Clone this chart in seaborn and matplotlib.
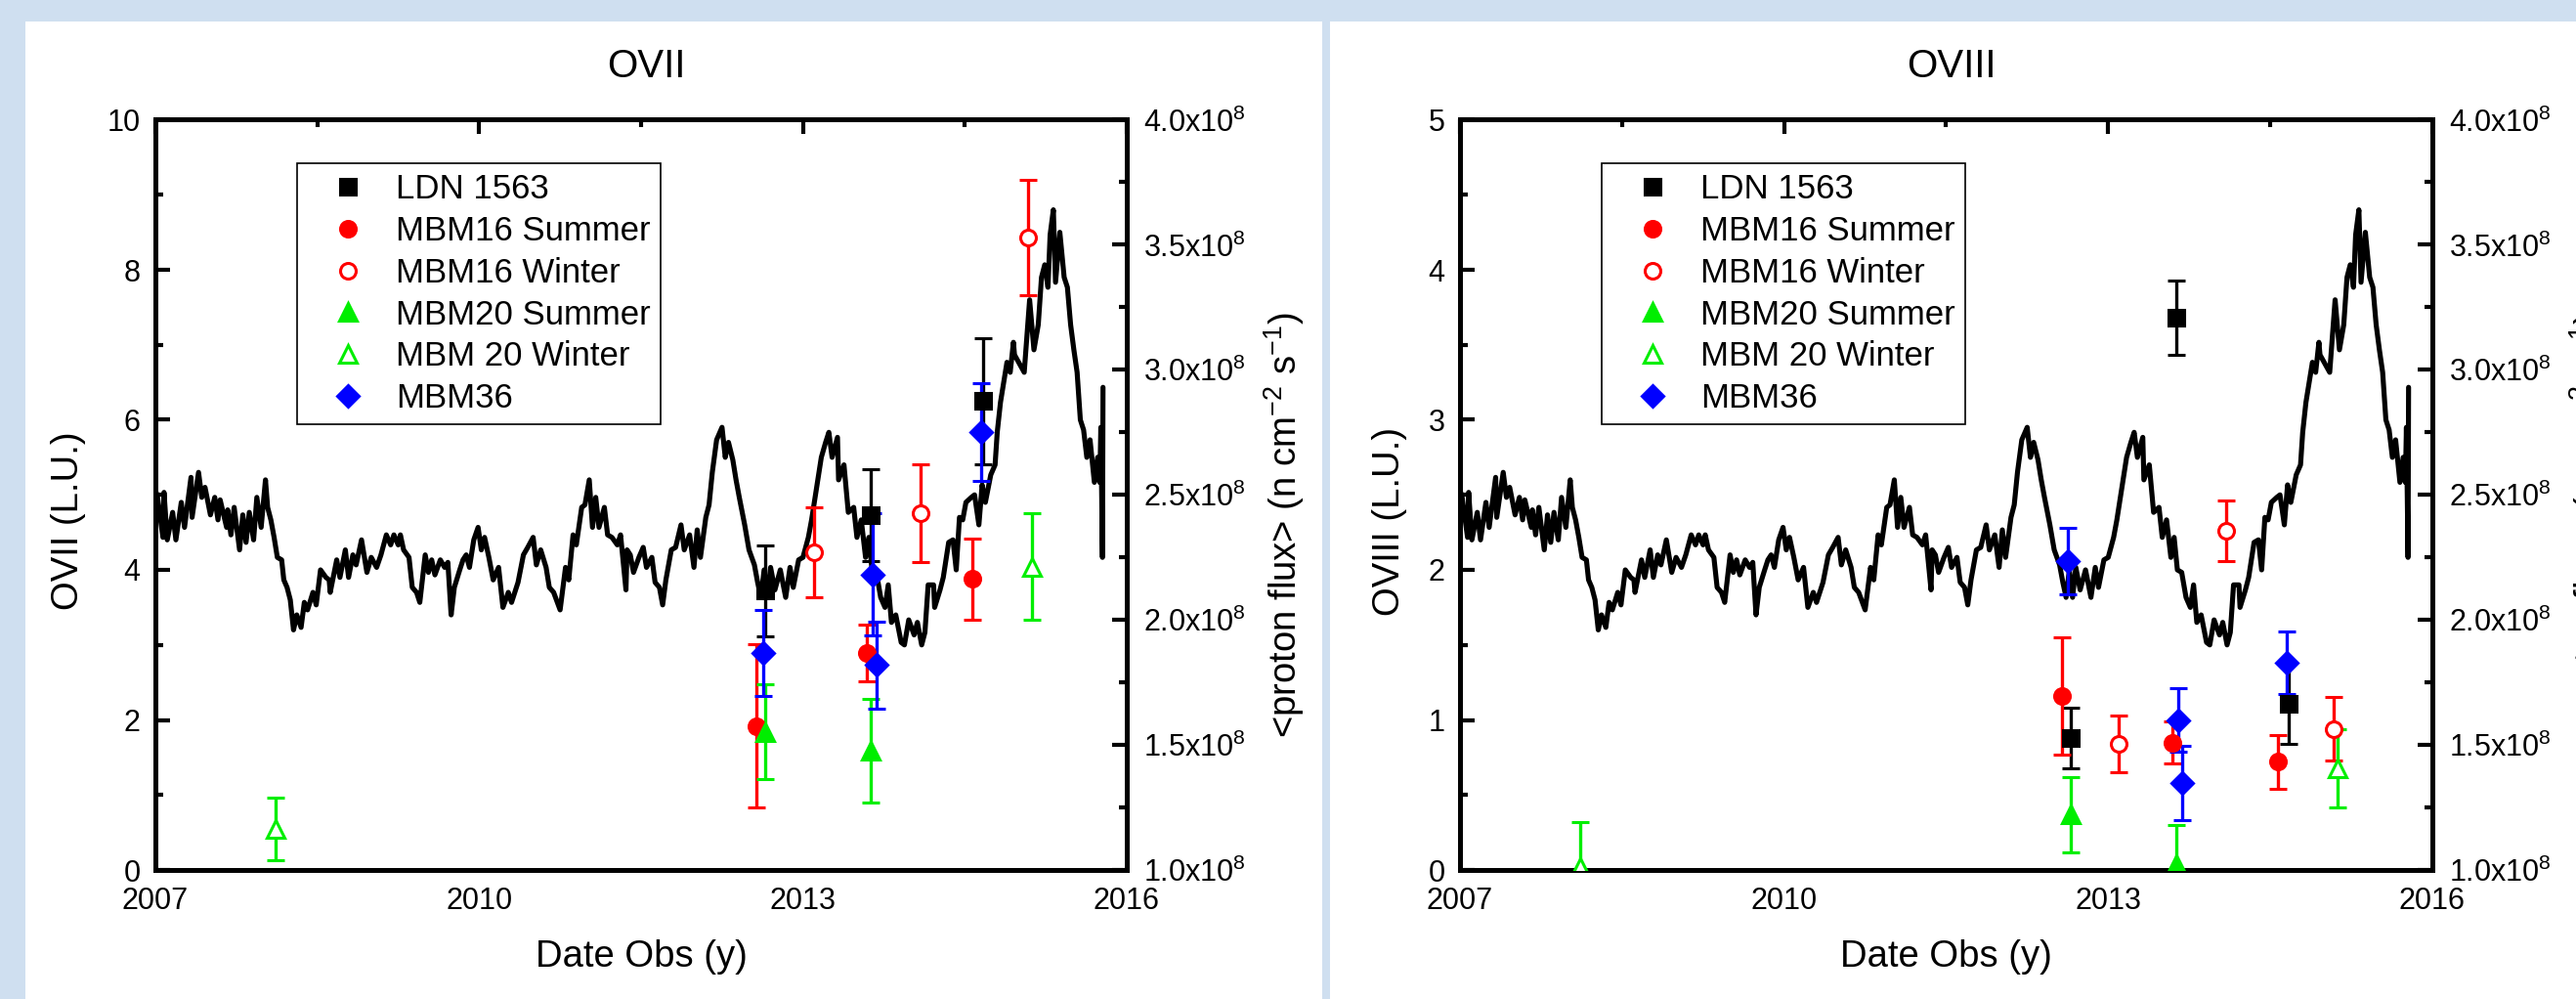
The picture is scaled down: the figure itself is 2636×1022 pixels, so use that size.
import numpy as np
import matplotlib.pyplot as plt
import seaborn as sns
from matplotlib.lines import Line2D
from matplotlib.patches import Rectangle
from matplotlib.ticker import MultipleLocator, FuncFormatter

sns.set_theme(style="white")
plt.rcParams['font.family'] = ['Liberation Sans', 'DejaVu Sans']
plt.rcParams['mathtext.default'] = 'regular'
for k in ['text.color', 'axes.labelcolor', 'xtick.color', 'ytick.color', 'axes.edgecolor']:
    plt.rcParams[k] = 'black'

# --- proton flux (units of 1e8 n cm-2 s-1) ---
flux_year = [2007.00, 2007.02, 2007.07, 2007.08, 2007.11, 2007.16, 2007.19, 2007.24, 2007.27, 2007.33,
             2007.34, 2007.40, 2007.43, 2007.46, 2007.51, 2007.55, 2007.58, 2007.60, 2007.66, 2007.67,
             2007.70, 2007.73, 2007.78, 2007.81, 2007.84, 2007.87, 2007.91, 2007.94, 2007.98, 2008.02,
             2008.04, 2008.07, 2008.10, 2008.13, 2008.17, 2008.19, 2008.22, 2008.25, 2008.28, 2008.31,
             2008.35, 2008.38, 2008.41, 2008.46, 2008.49, 2008.53, 2008.58, 2008.61, 2008.62, 2008.68,
             2008.71, 2008.76, 2008.79, 2008.83, 2008.86, 2008.91, 2008.96, 2009.00, 2009.05, 2009.09,
             2009.14, 2009.18, 2009.21, 2009.25, 2009.27, 2009.30, 2009.35, 2009.38, 2009.42, 2009.45,
             2009.50, 2009.53, 2009.56, 2009.59, 2009.64, 2009.68, 2009.71, 2009.74, 2009.77, 2009.82,
             2009.85, 2009.88, 2009.91, 2009.95, 2009.99, 2010.02, 2010.05, 2010.09, 2010.13, 2010.18,
             2010.22, 2010.27, 2010.30, 2010.36, 2010.41, 2010.45, 2010.50, 2010.53, 2010.57, 2010.62,
             2010.65, 2010.69, 2010.75, 2010.80, 2010.83, 2010.87, 2010.90, 2010.95, 2010.98, 2011.02,
             2011.05, 2011.08, 2011.11, 2011.16, 2011.19, 2011.23, 2011.28, 2011.31, 2011.36, 2011.37,
             2011.40, 2011.43, 2011.48, 2011.52, 2011.55, 2011.60, 2011.63, 2011.67, 2011.70, 2011.73,
             2011.78, 2011.82, 2011.87, 2011.90, 2011.95, 2011.99, 2012.02, 2012.05, 2012.10, 2012.13,
             2012.16, 2012.20, 2012.23, 2012.25, 2012.28, 2012.31, 2012.35, 2012.38, 2012.41, 2012.46,
             2012.50, 2012.55, 2012.58, 2012.61, 2012.64, 2012.67, 2012.70, 2012.74, 2012.79, 2012.84,
             2012.88, 2012.91, 2012.96, 2013.00, 2013.05, 2013.08, 2013.12, 2013.17, 2013.21, 2013.24,
             2013.27, 2013.32, 2013.33, 2013.38, 2013.42, 2013.47, 2013.50, 2013.54, 2013.58, 2013.61,
             2013.64, 2013.68, 2013.72, 2013.76, 2013.79, 2013.82, 2013.86, 2013.91, 2013.94, 2013.98,
             2014.03, 2014.06, 2014.10, 2014.13, 2014.16, 2014.21, 2014.22, 2014.27, 2014.30, 2014.35,
             2014.39, 2014.42, 2014.45, 2014.48, 2014.51, 2014.56, 2014.59, 2014.63, 2014.66, 2014.69,
             2014.74, 2014.78, 2014.80, 2014.83, 2014.86, 2014.89, 2014.92, 2014.95, 2014.96, 2015.05,
             2015.10, 2015.14, 2015.18, 2015.21, 2015.24, 2015.27, 2015.29, 2015.32, 2015.34, 2015.38,
             2015.42, 2015.45, 2015.48, 2015.51, 2015.54, 2015.57, 2015.60, 2015.63, 2015.66, 2015.70,
             2015.73, 2015.75, 2015.76, 2015.77, 2015.775, 2015.78]
flux_val = [2.52, 2.49, 2.33, 2.51, 2.32, 2.43, 2.32, 2.47, 2.37, 2.57,
            2.41, 2.59, 2.49, 2.53, 2.42, 2.49, 2.40, 2.48, 2.37, 2.44,
            2.34, 2.45, 2.28, 2.42, 2.31, 2.43, 2.32, 2.49, 2.37, 2.56,
            2.45, 2.40, 2.33, 2.25, 2.24, 2.16, 2.13, 2.08, 1.96, 2.02,
            1.97, 2.07, 2.04, 2.11, 2.06, 2.20, 2.17, 2.16, 2.11, 2.24,
            2.17, 2.28, 2.17, 2.26, 2.22, 2.32, 2.19, 2.25, 2.21, 2.26,
            2.34, 2.30, 2.34, 2.30, 2.34, 2.28, 2.25, 2.13, 2.11, 2.07,
            2.26, 2.19, 2.24, 2.18, 2.24, 2.21, 2.23, 2.02, 2.13, 2.20,
            2.24, 2.26, 2.21, 2.32, 2.37, 2.28, 2.33, 2.25, 2.16, 2.21,
            2.05, 2.11, 2.07, 2.15, 2.26, 2.29, 2.33, 2.22, 2.28, 2.21,
            2.13, 2.11, 2.04, 2.21, 2.16, 2.34, 2.30, 2.45, 2.46, 2.56,
            2.37, 2.49, 2.37, 2.45, 2.34, 2.33, 2.30, 2.34, 2.12, 2.28,
            2.26, 2.19, 2.25, 2.29, 2.21, 2.25, 2.15, 2.13, 2.06, 2.16,
            2.28, 2.29, 2.38, 2.28, 2.34, 2.21, 2.36, 2.25, 2.41, 2.46,
            2.59, 2.72, 2.75, 2.77, 2.65, 2.71, 2.64, 2.56, 2.49, 2.38,
            2.28, 2.22, 2.15, 2.09, 2.20, 2.09, 2.21, 2.12, 2.20, 2.09,
            2.21, 2.13, 2.24, 2.25, 2.33, 2.40, 2.51, 2.65, 2.71, 2.75,
            2.65, 2.73, 2.56, 2.62, 2.43, 2.45, 2.33, 2.40, 2.25, 2.33,
            2.20, 2.19, 2.09, 2.05, 2.14, 1.99, 2.02, 1.91, 1.90, 2.00,
            1.94, 1.99, 1.90, 1.95, 2.14, 2.14, 2.05, 2.12, 2.17, 2.31,
            2.32, 2.20, 2.41, 2.40, 2.47, 2.49, 2.50, 2.38, 2.54, 2.47,
            2.58, 2.62, 2.75, 2.87, 2.95, 3.03, 2.99, 3.11, 3.06, 2.99,
            3.28, 3.08, 3.18, 3.37, 3.42, 3.33, 3.54, 3.64, 3.35, 3.55,
            3.37, 3.33, 3.18, 3.08, 2.99, 2.80, 2.76, 2.65, 2.72, 2.55,
            2.65, 2.55, 2.77, 2.40, 2.25, 2.93]

# --- observation dates (same for both lines) ---
ldn_year = [2012.65, 2013.63, 2014.67]
mbm16s_year = [2012.57, 2013.59, 2014.57]
mbm16w_year = [2013.10, 2014.09, 2015.09]
mbm20s_year = [2012.65, 2013.63]
mbm20w_year = [2008.11, 2015.12]
mbm36_year = [2012.63, 2013.65, 2013.68, 2014.65]

# --- OVII (L.U.) ---
ldn_o7, ldn_o7_err = [3.72, 4.73, 6.25], [0.61, 0.61, 0.84]
mbm16s_o7, mbm16s_o7_err = [1.92, 2.89, 3.88], [1.09, 0.38, 0.54]
mbm16w_o7, mbm16w_o7_err = [4.23, 4.76, 8.43], [0.60, 0.65, 0.77]
mbm20s_o7, mbm20s_o7_err = [1.84, 1.59], [0.63, 0.69]
mbm20w_o7, mbm20w_o7_err = [0.55, 4.04], [0.42, 0.71]
mbm36_o7, mbm36_o7_err = [2.89, 3.94, 2.73, 5.84], [0.57, 0.81, 0.58, 0.65]

# --- OVIII (L.U.) ---
ldn_o8, ldn_o8_err = [0.88, 3.68, 1.11], [0.20, 0.25, 0.27]
mbm16s_o8, mbm16s_o8_err = [1.16, 0.85, 0.72], [0.39, 0.14, 0.18]
mbm16w_o8, mbm16w_o8_err = [0.84, 2.26, 0.94], [0.19, 0.20, 0.21]
mbm20s_o8, mbm20s_o8_err = [0.37, 0.04], [0.25, 0.26]
mbm20w_o8, mbm20w_o8_err = [0.02, 0.68], [0.30, 0.26]
mbm36_o8, mbm36_o8_err = [2.06, 1.00, 0.58, 1.38], [0.22, 0.21, 0.25, 0.21]

labels = ['LDN 1563', 'MBM16 Summer', 'MBM16 Winter', 'MBM20 Summer', 'MBM 20 Winter', 'MBM36']
markers = ['s', 'o', 'o', '^', '^', 'D']
colors = ['black', '#ff0000', '#ff0000', '#00ee00', '#00ee00', '#0000ff']
filled = [True, True, False, True, False, True]
msizes = [11, 11.5, 11.5, 13, 13, 11]

fig = plt.figure(figsize=(26.36, 10.22), dpi=100, facecolor='#cfdff0')
fig.add_artist(Rectangle((26 / 2636, 0), 1327 / 2636, 1000 / 1022, transform=fig.transFigure,
                         facecolor='white', edgecolor='none', zorder=0))
fig.add_artist(Rectangle((1361 / 2636, 0), 1275 / 2636, 1000 / 1022, transform=fig.transFigure,
                         facecolor='white', edgecolor='none', zorder=0))


def draw_panel(rect, title, ylab, ymax, ystep, series, ylab_x):
    ax = fig.add_axes(rect)
    ax2 = ax.twinx()
    ax.set_zorder(2)
    ax2.set_zorder(1)
    ax.patch.set_visible(False)
    ax2.patch.set_visible(False)

    sns.lineplot(x=flux_year, y=np.array(flux_val) * 1e8, ax=ax2, color='black', lw=3.7,
                 estimator=None, sort=False)
    ax2.set_ylim(1e8, 4e8)

    for (yr, val, err), lab, m, c, f, ms in zip(series, labels, markers, colors, filled, msizes):
        ax.errorbar(yr, val, yerr=err, fmt=m, color=c, mec=c, mfc=c if f else 'white', ms=ms,
                    mew=2.2, elinewidth=2.4, capsize=6.5, capthick=2.4, ls='none', zorder=3)

    ax.set_xlim(2007, 2016)
    ax.set_ylim(0, ymax)
    ax.xaxis.set_major_locator(MultipleLocator(3))
    ax.xaxis.set_minor_locator(MultipleLocator(1.5))
    ax.yaxis.set_major_locator(MultipleLocator(ystep))
    ax.yaxis.set_minor_locator(MultipleLocator(ystep / 2))
    ax2.yaxis.set_major_locator(MultipleLocator(0.5e8))
    ax2.yaxis.set_minor_locator(MultipleLocator(0.25e8))
    ax2.yaxis.set_major_formatter(FuncFormatter(lambda v, p: f"{v / 1e8:.1f}x10$^{{8}}$"))

    ax.tick_params(axis='both', which='both', direction='in', top=True, right=False,
                   width=3, labelsize=22)
    ax.tick_params(which='major', length=11)
    ax.tick_params(which='minor', length=6)
    ax.tick_params(axis='x', pad=12)
    ax.tick_params(axis='y', pad=11)
    ax2.tick_params(axis='y', which='both', direction='in', width=3, labelsize=22, pad=12)
    ax2.tick_params(axis='y', which='major', length=11)
    ax2.tick_params(axis='y', which='minor', length=6)
    for a in (ax, ax2):
        for s in a.spines.values():
            s.set_linewidth(3.5)
            s.set_color('black')

    ax.set_title(title, fontsize=29, x=0.505, y=1.071, va='center', pad=0)
    ax.set_xlabel('Date Obs (y)', fontsize=27.5)
    ax.xaxis.set_label_coords(0.5, -0.116)
    ax.xaxis.label.set_va('center')
    ax.set_ylabel(ylab, fontsize=27.5)
    ax.yaxis.set_label_coords(ylab_x, 0.465)
    ax.yaxis.label.set_va('center')
    ax2.set_ylabel('<proton flux> (n cm$^{-2}$ s$^{-1}$)', fontsize=27.5)
    ax2.yaxis.set_label_coords(1.162, 0.46)
    ax2.yaxis.label.set_va('center')

    handles = [Line2D([], [], ls='none', marker=m, color=c, mec=c, mfc=c if f else 'white',
                      ms=ms, mew=2.2)
               for m, c, f, ms in zip(markers, colors, filled, msizes)]
    leg = ax.legend(handles, labels, loc='upper left', bbox_to_anchor=(0.146, 0.942), fontsize=25,
                    frameon=True, fancybox=False, edgecolor='black', framealpha=1,
                    borderpad=0.3, labelspacing=0.28, handlelength=2.37, handletextpad=0.24,
                    borderaxespad=0)
    leg.get_frame().set_linewidth(1.2)
    return ax


series7 = [(ldn_year, ldn_o7, ldn_o7_err), (mbm16s_year, mbm16s_o7, mbm16s_o7_err),
           (mbm16w_year, mbm16w_o7, mbm16w_o7_err), (mbm20s_year, mbm20s_o7, mbm20s_o7_err),
           (mbm20w_year, mbm20w_o7, mbm20w_o7_err), (mbm36_year, mbm36_o7, mbm36_o7_err)]
series8 = [(ldn_year, ldn_o8, ldn_o8_err), (mbm16s_year, mbm16s_o8, mbm16s_o8_err),
           (mbm16w_year, mbm16w_o8, mbm16w_o8_err), (mbm20s_year, mbm20s_o8, mbm20s_o8_err),
           (mbm20w_year, mbm20w_o8, mbm20w_o8_err), (mbm36_year, mbm36_o8, mbm36_o8_err)]

draw_panel([159 / 2636, 132 / 1022, 994 / 2636, 767.5 / 1022], 'OVII', 'OVII (L.U.)', 10, 2,
           series7, -0.090)
draw_panel([1494 / 2636, 132 / 1022, 995 / 2636, 767.5 / 1022], 'OVIII', 'OVIII (L.U.)', 5, 1,
           series8, -0.072)

plt.savefig('out.png', dpi=100)
